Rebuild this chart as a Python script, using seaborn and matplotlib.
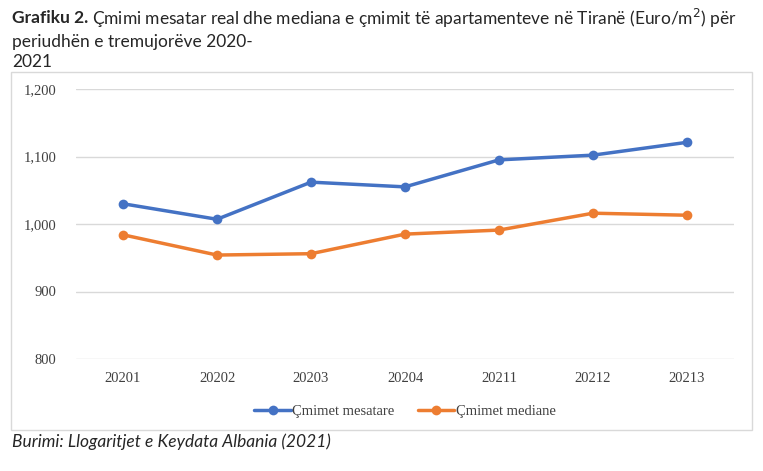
import pandas as pd
import matplotlib
matplotlib.use("Agg")
import matplotlib.pyplot as plt
import seaborn as sns
from matplotlib.patches import Rectangle

# Data
quarters = ["20201", "20202", "20203", "20204", "20211", "20212", "20213"]
mesatare = [1030, 1007, 1062, 1055, 1095, 1102, 1121]
mediane = [984, 954, 956, 985, 991, 1016, 1013]

df = pd.DataFrame({
    "Tremujori": quarters * 2,
    "Cmimi": mesatare + mediane,
    "Seria": ["Çmimet mesatare"] * len(quarters) + ["Çmimet mediane"] * len(quarters),
})

sns.set_style("white")
plt.rcParams["font.family"] = ["Liberation Serif", "DejaVu Serif"]

fig = plt.figure(figsize=(7.63, 4.71), dpi=100)
ax = fig.add_axes([76 / 763, 1 - 359 / 471, 658 / 763, 270 / 471])

# chart frame
fig.patches.append(Rectangle((11 / 763, 1 - 430 / 471), 741 / 763, 358 / 471,
                             transform=fig.transFigure, fill=False,
                             edgecolor="#d9d9d9", linewidth=1.0))

sns.lineplot(
    data=df, x="Tremujori", y="Cmimi", hue="Seria",
    palette=["#4472c4", "#ed7d31"], marker="o", markersize=7,
    markeredgewidth=0, linewidth=2.5, ax=ax, sort=False,
)

ax.set_xlim(-0.5, 6.5)
ax.set_ylim(800, 1200)
ax.set_yticks([800, 900, 1000, 1100, 1200])
ax.set_yticklabels(["800", "900", "1,000", "1,100", "1,200"])
ax.grid(axis="y", color="#d9d9d9", linewidth=1)
ax.set_axisbelow(True)
for s in ax.spines.values():
    s.set_visible(False)
ax.tick_params(axis="both", length=0, labelsize=10.5, colors="#404040")
ax.tick_params(axis="x", pad=9)
ax.tick_params(axis="y", pad=14)
ax.set_xlabel("")
ax.set_ylabel("")

ax.legend(loc="upper center", bbox_to_anchor=(0.5, -0.12), ncol=2,
          frameon=False, fontsize=10.5, handlelength=2.5, columnspacing=1.6,
          handletextpad=0.1, labelcolor="#404040")

sans = ["Lato", "DejaVu Sans"]
t1 = fig.text(12 / 763, 1 - 18 / 471, "Grafiku 2.", fontsize=12.5, fontweight="bold",
              family=sans, va="center")
fig.canvas.draw()
bb = t1.get_window_extent(renderer=fig.canvas.get_renderer())
fig.text((bb.x1 + 4) / 763, 1 - 18 / 471,
         "Çmimi mesatar real dhe mediana e çmimit të apartamenteve në Tiranë (Euro/m$^2$) për",
         fontsize=12.5, family=sans, va="center")
fig.text(12 / 763, 1 - 42 / 471, "periudhën e tremujorëve 2020-", fontsize=12.5,
         family=sans, va="center")
fig.text(12 / 763, 1 - 62 / 471, "2021", fontsize=12.5, family=sans, va="center")
fig.text(12 / 763, 1 - 442 / 471, "Burimi: Llogaritjet e Keydata Albania (2021)",
         fontsize=12.5, family=sans, style="italic", va="center")

fig.savefig("out.png", dpi=100)
